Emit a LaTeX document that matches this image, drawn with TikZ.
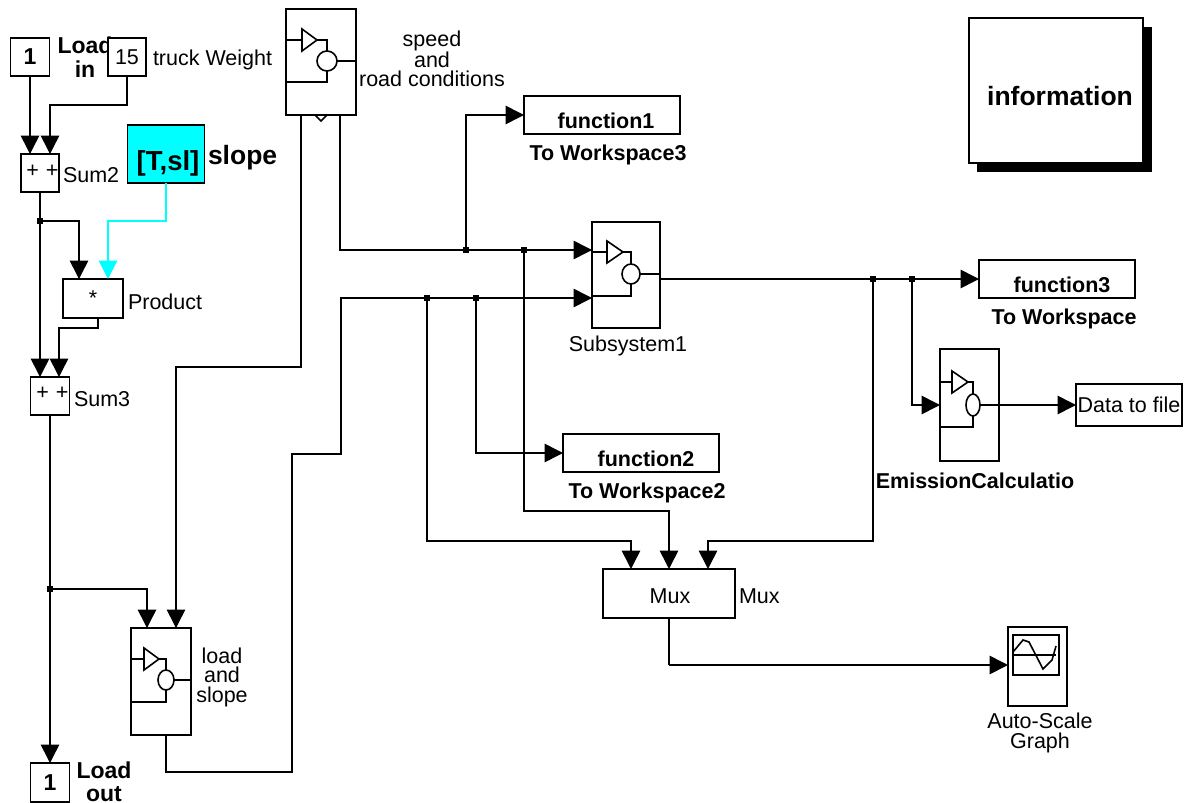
\documentclass[tikz,border=0pt]{standalone}
\usepackage{fontspec}
\setmainfont{Liberation Sans}
\usetikzlibrary{arrows.meta}
\definecolor{slopecyan}{RGB}{0,255,255}
\tikzset{
  every picture/.style={line join=miter, line cap=butt, >={Triangle[length=18.5pt,width=18.5pt]}},
  wire/.style={line width=1.6pt},
  sig/.style={wire,->},
  blockbox/.style={draw,line width=1.6pt,fill=white,inner sep=0pt,outer sep=0pt},
  junction/.style={fill=black,inner sep=0pt,outer sep=0pt,minimum size=6pt},
  plainlabel/.style={inner sep=0pt,outer sep=0pt,align=center,font=\fontsize{21.5}{19.5}\selectfont},
  boldlabel/.style={inner sep=0pt,outer sep=0pt,align=center,font=\fontsize{21.5}{24}\selectfont\bfseries},
  plainbox/.style={blockbox,font=\fontsize{21.5}{24}\selectfont},
  boldbox/.style={blockbox,font=\fontsize{21.5}{24}\selectfont\bfseries},
}
\newcommand{\lowtext}[3]{\hspace{#2pt}\raisebox{-#1pt}[0pt][0pt]{#3}}
\newcommand{\subicon}[9]{%
  \draw[wire] (#1.west |- 0,#6)--(#2,#6);
  \draw[wire] (#2,#6-11)--(#3,#6)--(#2,#6+11)--cycle;
  \draw[wire] (#3,#6)-|(#4,#7-#9);
  \draw[wire] (#4,#7) ellipse [x radius=#5pt,y radius=#9pt];
  \draw[wire] (#4+#5,#7)--(#1.east |- 0,#7);
  \draw[wire] (#4,#7+#9)|-(#1.west |- 0,#8);
}
\begin{document}
\begin{tikzpicture}[x=1pt,y=-1pt]
\useasboundingbox (0,0) rectangle (1184,803);

\node[boldlabel,font=\fontsize{23}{24}\selectfont\bfseries] (loadinlabel) at (85,57) {Load\\in};
\node[blockbox,minimum width=39pt,minimum height=38pt,font=\fontsize{23}{24}\selectfont\bfseries] (loadin) at (30,57) {1};
\node[plainbox,minimum width=38pt,minimum height=38pt] (truck) at (127,57) {15};
\node[plainlabel,anchor=west] (trucklabel) at (153,60) {truck Weight};
\node[plainbox,minimum width=38pt,minimum height=38pt] (sumtwo) at (40,173) {\lowtext{4}{5}{+\hspace{7pt}+}};
\node[plainlabel,anchor=west] (sumtwolabel) at (63,175) {Sum2};
\node[blockbox,fill=slopecyan,minimum width=77pt,minimum height=58pt,font=\fontsize{27.5}{24}\selectfont\bfseries] (slope) at (166,154) {\lowtext{16}{4}{[T,sl]}};
\node[boldlabel,font=\fontsize{26.5}{24}\selectfont\bfseries,anchor=west] (slopelabel) at (208,158) {slope};
\node[plainbox,minimum width=60pt,minimum height=39pt] (product) at (93,298.5) {*};
\node[plainlabel,anchor=west] (productlabel) at (128,302) {Product};
\node[plainbox,minimum width=39pt,minimum height=38pt] (sumthree) at (50,396) {\lowtext{3}{5}{+\hspace{7pt}+}};
\node[plainlabel,anchor=west] (sumthreelabel) at (74,399) {Sum3};
\node[blockbox,minimum width=39pt,minimum height=39pt,font=\fontsize{23}{24}\selectfont\bfseries] (loadout) at (50,782.5) {1};
\node[boldlabel,font=\fontsize{23}{23.5}\selectfont\bfseries] (loadoutlabel) at (104,782) {Load\\out};

\node[blockbox,minimum width=70pt,minimum height=106pt] (speed) at (321,62) {};
\node[plainlabel] (speedlabel) at (432,59) {speed\\and\\road conditions};
\node[blockbox,minimum width=60pt,minimum height=107pt] (loadslope) at (161,681.5) {};
\node[plainlabel] (loadslopelabel) at (222,677) {load\\and\\slope};
\node[blockbox,minimum width=68pt,minimum height=106pt] (subsys) at (626,275) {};
\node[plainlabel] (subsyslabel) at (628,346) {Subsystem1};
\node[blockbox,minimum width=59pt,minimum height=112pt] (emission) at (969.5,405) {};
\node[boldlabel] (emissionlabel) at (975,481) {EmissionCalculatio};

\node[boldbox,minimum width=156pt,minimum height=38pt] (funcone) at (602,115) {\lowtext{13}{8}{function1}};
\node[boldlabel] (funconelabel) at (608,155) {To Workspace3};
\node[boldbox,minimum width=156pt,minimum height=38pt] (functwo) at (641,453) {\lowtext{13}{10}{function2}};
\node[boldlabel] (functwolabel) at (647,493) {To Workspace2};
\node[boldbox,minimum width=156pt,minimum height=38pt] (functhree) at (1057,279) {\lowtext{13}{10}{function3}};
\node[boldlabel] (functhreelabel) at (1064,319) {To Workspace};
\node[plainbox,minimum width=106pt,minimum height=42pt] (datafile) at (1129,405) {Data to file};
\node[plainbox,minimum width=132pt,minimum height=49pt] (mux) at (669,593.5) {\lowtext{9.5}{2}{Mux}};
\node[plainlabel,anchor=west] (muxlabel) at (739,596) {Mux};
\node[blockbox,minimum width=59pt,minimum height=79pt] (graph) at (1037.5,666.5) {};
\node[plainlabel] (graphlabel) at (1040,733) {Auto-Scale\\Graph};

\fill (977,27) rectangle (1152,172);
\node[blockbox,minimum width=174pt,minimum height=145pt,font=\fontsize{26.5}{24}\selectfont\bfseries] (info) at (1056,90.5) {\lowtext{14.5}{8}{information}};

\node[junction] (splitsum) at (40,221) {};
\node[junction] (splitload) at (50,589) {};
\node[junction] (splitfunc) at (466,250) {};
\node[junction] (splitmuxb) at (524,250) {};
\node[junction] (splitmuxa) at (427,298) {};
\node[junction] (splitfunctwo) at (476,298) {};
\node[junction] (splitmuxc) at (873,279) {};
\node[junction] (splitemis) at (912,279) {};

\draw[sig] (loadin.south)--(loadin.south |- sumtwo.north);
\draw[sig] (truck.south)--(127,105)-|(50,154);
\draw[wire] (sumtwo.south)--(splitsum);
\draw[sig] (splitsum)--(40,377);
\draw[sig] (splitsum)-|(79,279);
\draw[sig,slopecyan] (slope.south)--(166,221)-|(108,279);
\draw[sig] (98,318)--(98,328)-|(59,377);
\draw[sig] (sumthree.south)--(loadout.north);
\draw[sig] (splitload)-|(147,628);
\draw[sig] (301,115)--(301,367)-|(176,628);
\draw[wire] (340,115)--(340,250)--(splitfunc);
\draw[sig] (splitfunc)|-(funcone.west);
\draw[wire] (splitfunc)--(splitmuxb);
\draw[sig] (splitmuxb)--(592,250);
\draw[sig] (splitmuxb)--(524,511)-|(669,569);
\draw[wire] (166,735)--(166,772)-|(292,454)-|(341,298)--(splitmuxa);
\draw[wire] (splitmuxa)--(splitfunctwo);
\draw[sig] (splitfunctwo)--(592,298);
\draw[sig] (splitmuxa)--(427,541)-|(631,569);
\draw[sig] (splitfunctwo)|-(functwo.west);
\draw[wire] (660,279)--(splitmuxc);
\draw[wire] (splitmuxc)--(splitemis);
\draw[sig] (splitemis)--(functhree.west);
\draw[sig] (splitmuxc)--(873,541)-|(708,569);
\draw[sig] (splitemis)--(912,405)--(emission.west);
\draw[sig] (emission.east)--(datafile.west);
\draw[wire] (mux.south)--(669,665);
\draw[sig] (669,665)--(graph.west |- 0,665);

\subicon{speed}{302}{317}{327}{10}{40}{61}{82}{10}
\draw[wire] (315,115)--(321,121)--(327,115);
\subicon{subsys}{607}{623}{631}{9}{252}{274}{296}{10}
\subicon{loadslope}{144}{159}{166}{8}{659}{680}{702}{10}
\subicon{emission}{952}{968}{973}{7}{382}{405}{427}{11}

\draw[wire] (1013,635) rectangle (1059,675);
\draw[wire] (1013,655)--(1056,655);
\draw[wire] (1013,652)--(1023,640)--(1029,642)--(1043,669)--(1052,660)--(1056,646);
\end{tikzpicture}
\end{document}
